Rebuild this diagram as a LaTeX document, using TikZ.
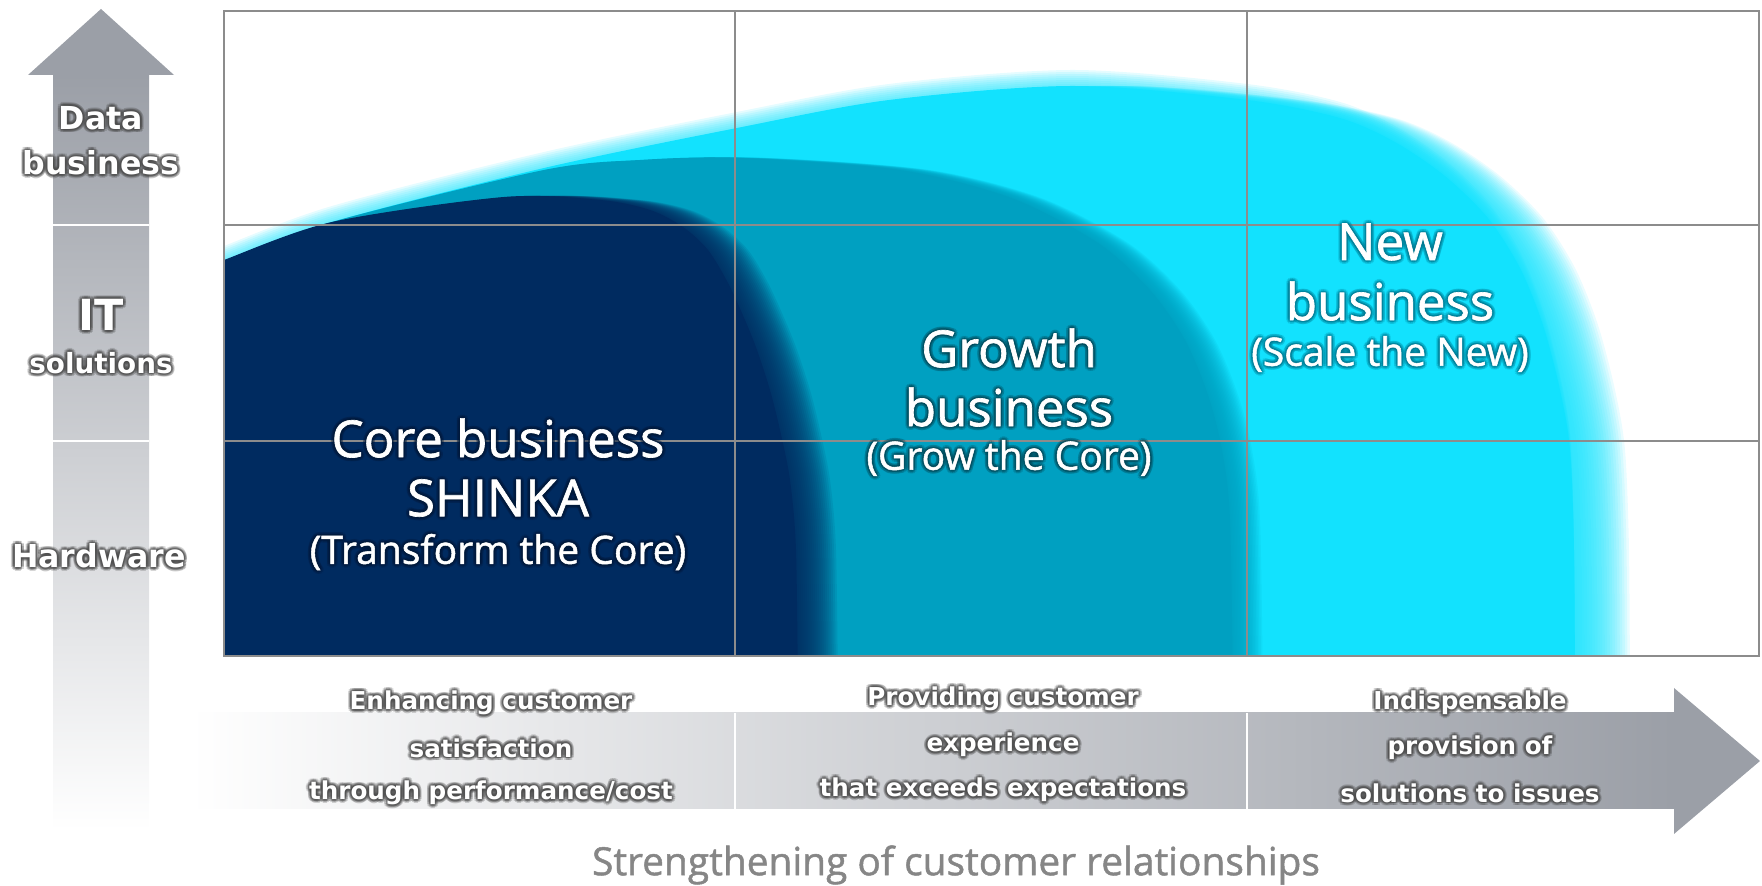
\documentclass[tikz,border=0pt]{standalone}
\usepackage{fontspec}
\setmainfont{Open Sans}[FakeBold=1.2]
\newfontfamily\areafont{Open Sans}[FakeBold=1.3]
\newfontfamily\tagfont{DejaVu Sans}

\definecolor{navyblob}{HTML}{002B60}
\definecolor{tealblob}{HTML}{00A0C1}
\definecolor{cyanblob}{HTML}{12E2FE}
\definecolor{gridgray}{HTML}{8C8C8C}
\definecolor{arrowgray}{HTML}{9B9FA7}
\definecolor{titlegray}{HTML}{868686}

% outlines of the three business areas (pixel units, y pointing down)
\newcommand\newarea{plot[smooth] coordinates {(210,268) (224,262) (332,222) (544,168) (737,128) (889,100) (1073,86) (1247,100) (1340,118) (1395,142) (1445,176) (1488,218) (1520,268) (1543,325) (1560,390) (1570,450) (1574,550) (1575,700)} -- (210,700) -- cycle}
\newcommand\growarea{plot[smooth] coordinates {(210,268) (224,262) (332,222) (544,170) (640,160) (737,158) (899,170) (1011,198) (1098,243) (1150,290) (1185,340) (1208,395) (1222,450) (1230,520) (1233,700)} -- (210,700) -- cycle}
\newcommand\corearea{plot[smooth] coordinates {(210,266) (224,260) (332,222) (504,197) (600,200) (650,210) (683,227) (708,250) (728,283) (745,320) (757,350) (770,390) (780,430) (790,480) (796,550) (798,700)} -- (210,700) -- cycle}

% white text with a soft halo: style, halo style, name, position, text
\newcommand\glowlabel[5]{%
  \foreach \ga in {0,30,...,330} {
    \node[#1, #2, shift={(\ga:3.5)}] at #4 {#5};
    \node[#1, #2, shift={(\ga:1.8)}] at #4 {#5};
  }
  \node[#1] (#3) at #4 {#5};
}

\tikzset{
  bigline/.style={text=white, inner sep=0pt, font=\areafont\fontsize{14.5}{17}\selectfont},
  subline/.style={text=white, inner sep=0pt, font=\areafont\fontsize{11.1}{13}\selectfont},
  axisline/.style={text=white, inner sep=0pt, font=\tagfont\bfseries\fontsize{9}{11}\selectfont},
  bandline/.style={text=white, inner sep=0pt, font=\tagfont\bfseries\fontsize{7}{9}\selectfont},
  coreglow/.style={text=navyblob!60!black, opacity=.15},
  growglow/.style={text=tealblob!45!black, opacity=.15},
  newglow/.style={text=tealblob!75!black, opacity=.15},
  grayglow/.style={text=black!70, opacity=.23},
}

\begin{document}
\begin{tikzpicture}[x=0.01cm, y=-0.01cm]
  \useasboundingbox (0,0) rectangle (1762,886);

  % vertical axis arrow
  \shade[top color=arrowgray, bottom color=white] (53,75) rectangle (149,830);
  \fill[arrowgray] (101,9) -- (174,75) -- (28,75) -- cycle;
  \draw[white, line width=.6pt] (53,225) -- (149,225) (53,441) -- (149,441);

  % horizontal axis arrow
  \shade[left color=white, right color=arrowgray] (190,713) rectangle (1674,809);
  \fill[arrowgray] (1674,688) -- (1760,761) -- (1674,834) -- cycle;
  \draw[white, line width=.6pt] (735,713) -- (735,809) (1247,713) -- (1247,809);

  % business areas, blurred towards the right
  \begin{scope}
    \clip (224,11) rectangle (1759,656);
    \foreach \dx in {2.5,5,...,55}
      \fill[cyanblob, opacity=.09, shift={(\dx,0)}] \newarea;
    \foreach \dy in {2,4,...,16}
      \fill[cyanblob, opacity=.11, shift={(0,-\dy)}] \newarea;
    \fill[cyanblob] \newarea;
    \foreach \dx in {1.5,3,...,30}
      \fill[tealblob, opacity=.1, shift={(\dx,0)}] \growarea;
    \fill[tealblob] \growarea;
    \foreach \dx in {2,4,...,40}
      \fill[navyblob, opacity=.1, shift={(\dx,0)}] \corearea;
    \fill[navyblob] \corearea;
  \end{scope}

  % grid
  \draw[gridgray, line width=.45pt] (735,11) -- (735,656) (1247,11) -- (1247,656)
    (224,225) -- (1759,225) (224,441) -- (1759,441);
  \draw[gridgray, line width=.8pt] (224,11) rectangle (1759,656);

  % labels of the areas
  \glowlabel{bigline}{coreglow}{core1}{(498,438)}{Core business}
  \glowlabel{bigline}{coreglow}{core2}{(498,498)}{SHINKA}
  \glowlabel{subline}{coreglow}{core3}{(498,552)}{(Transform the Core)}
  \glowlabel{bigline}{growglow}{grow1}{(1009,348)}{Growth}
  \glowlabel{bigline}{growglow}{grow2}{(1009,407)}{business}
  \glowlabel{subline}{growglow}{grow3}{(1009,458)}{(Grow the Core)}
  \glowlabel{bigline}{newglow}{new1}{(1390,242)}{New}
  \glowlabel{bigline}{newglow}{new2}{(1390,301)}{business}
  \glowlabel{subline}{newglow}{new3}{(1390,354)}{(Scale the New)}

  % vertical axis labels
  \glowlabel{axisline}{grayglow}{data1}{(101,118)}{Data}
  \glowlabel{axisline}{grayglow}{data2}{(101,163)}{business}
  \glowlabel{axisline, font=\tagfont\bfseries\fontsize{12.2}{14}\selectfont}{grayglow}{it1}{(101,315)}{IT}
  \glowlabel{axisline, font=\tagfont\bfseries\fontsize{7.9}{10}\selectfont}{grayglow}{it2}{(101,363)}{solutions}
  \glowlabel{axisline}{grayglow}{hw}{(99,556)}{Hardware}

  % horizontal axis labels
  \glowlabel{bandline}{grayglow}{band11}{(491,703)}{Enhancing customer}
  \glowlabel{bandline}{grayglow}{band12}{(491,748)}{satisfaction}
  \glowlabel{bandline}{grayglow}{band13}{(491,793)}{through performance/cost}
  \glowlabel{bandline}{grayglow}{band21}{(1003,699)}{Providing customer}
  \glowlabel{bandline}{grayglow}{band22}{(1003,745)}{experience}
  \glowlabel{bandline}{grayglow}{band23}{(1003,790)}{that exceeds expectations}
  \glowlabel{bandline}{grayglow}{band31}{(1470,703)}{Indispensable}
  \glowlabel{bandline}{grayglow}{band32}{(1470,748)}{provision of}
  \glowlabel{bandline}{grayglow}{band33}{(1470,793)}{solutions to issues}

  \node[text=titlegray, inner sep=0pt, font=\fontsize{11.05}{13}\selectfont] (title) at (956,865)
    {Strengthening of customer relationships};
\end{tikzpicture}
\end{document}
